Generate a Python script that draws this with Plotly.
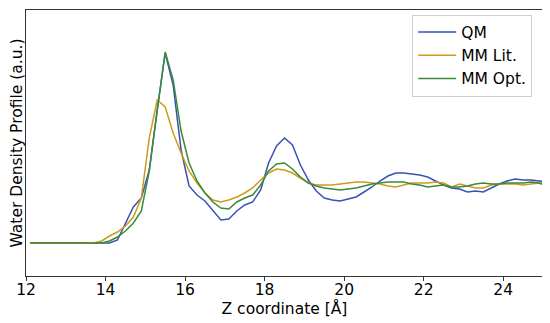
import plotly.graph_objects as go

# Z coordinate grid (Å)
z = [round(12.1 + 0.2 * i, 1) for i in range(66)]

flat = [0] * 10  # 12.1 .. 13.9

qm = flat + [0, 3, 20, 36, 45, 73, 133, 190, 158, 93,
             57, 48, 42, 32, 23, 24, 32, 38, 41, 53,
             80, 97, 105, 98, 78, 63, 52, 45, 43, 42,
             44, 46, 51, 56, 62, 67, 70, 70, 69, 68,
             66, 62, 58, 55, 54, 51, 52, 51, 55, 59,
             62, 64, 63, 63, 62, 61]

mm_lit = [0] * 9 + [2] + [7, 11, 17, 26, 45, 105, 143, 136, 110, 90,
                          72, 60, 50, 43, 41, 43, 46, 50, 55, 63,
                          70, 74, 73, 70, 65, 60, 58, 58, 58, 59,
                          60, 61, 61, 60, 59, 57, 56, 58, 60, 60,
                          60, 61, 60, 56, 59, 57, 55, 55, 58, 59,
                          59, 59, 58, 59, 60, 59]

mm_opt = flat + [2, 6, 12, 20, 32, 72, 133, 191, 163, 112,
                 80, 62, 50, 41, 35, 34, 41, 45, 48, 58,
                 72, 79, 80, 74, 66, 60, 57, 55, 54, 53,
                 54, 55, 57, 59, 60, 61, 61, 61, 59, 58,
                 56, 57, 58, 56, 56, 57, 59, 60, 59, 59,
                 60, 60, 60, 61, 60, 57]

names = ["QM", "MM Lit.", "MM Opt."]
colors = ["#3553b3", "#d09a1c", "#3a8a3a"]
x_ticks = [12, 14, 16, 18, 20, 22, 24]

fig = go.Figure()
for name, ys, c in zip(names, [qm, mm_lit, mm_opt], colors):
    fig.add_trace(go.Scatter(x=z, y=ys, mode="lines", name=name,
                             line=dict(color=c, width=1.5)))

font = dict(family="DejaVu Sans", size=15.5, color="#000000")
fig.update_layout(
    width=542, height=315,
    margin=dict(l=18, r=7, t=2, b=47, autoexpand=False),
    paper_bgcolor="white", plot_bgcolor="white",
    font=font,
    showlegend=True,
    legend=dict(x=0.747, y=0.983, xanchor="left", yanchor="top",
                bgcolor="white", bordercolor="#d0d0d0", borderwidth=1,
                font=dict(family="DejaVu Sans", size=15.5), tracegroupgap=0,
                itemwidth=38),
)
fig.update_xaxes(range=[12, 25], tickvals=x_ticks, ticks="outside", ticklen=4,
                 tickcolor="#333", showline=True, linecolor="#333", linewidth=1,
                 mirror=True, showgrid=False, zeroline=False, automargin=False,
                 ticklabelstandoff=-5,
                 title=dict(text="Z coordinate [Å]", font=font, standoff=0),
                 tickfont=font)
fig.update_yaxes(range=[-33, 233], showticklabels=False, ticks="",
                 showline=True, linecolor="#333", linewidth=1, mirror=True,
                 showgrid=False, zeroline=False, automargin=False,
                 title=dict(text="Water Density Profile (a.u.)", font=font, standoff=0))

fig.write_html("out.html")
